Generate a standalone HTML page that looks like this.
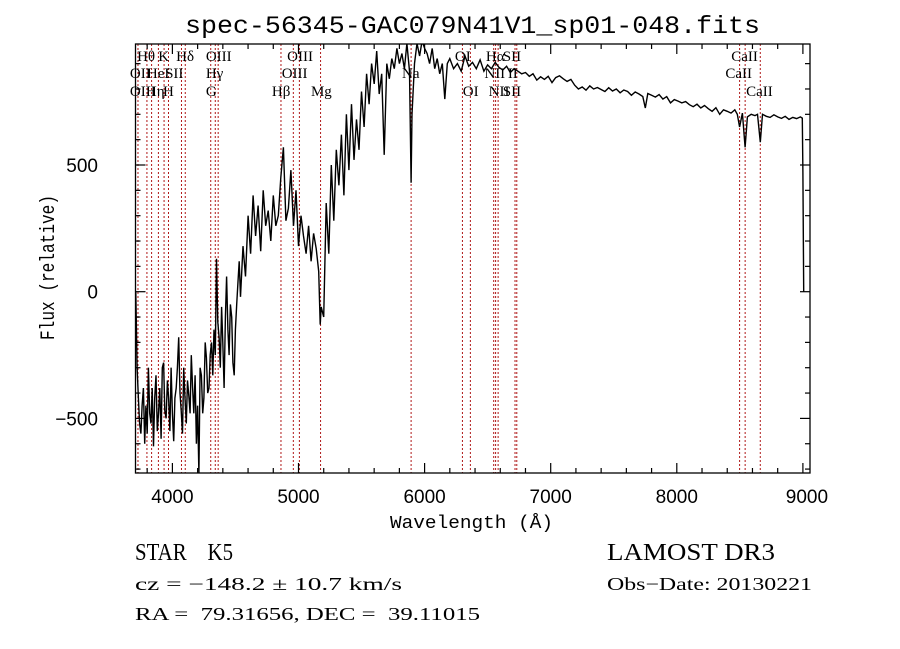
<!DOCTYPE html>
<html><head><meta charset="utf-8"><style>
body{margin:0;background:#fff;}
svg{display:block;}
text{fill:#000;white-space:pre;}
</style></head><body>
<svg id="chart" width="900" height="649" viewBox="0 0 900 649" xmlns="http://www.w3.org/2000/svg" xml:space="preserve">
<rect width="900" height="649" fill="#fff"/>
<text x="185" y="33" font-family="Liberation Mono, monospace" font-size="25" textLength="575" lengthAdjust="spacingAndGlyphs">spec-56345-GAC079N41V1_sp01-048.fits</text>
<defs><clipPath id="pc"><rect x="135.5" y="44" width="674.5" height="429"/></clipPath></defs>
<g id="lines" clip-path="url(#pc)"></g>
<g id="labels" font-family="Liberation Serif, serif" font-size="15"></g>
<g id="spec" clip-path="url(#pc)"></g>
<rect x="135.5" y="44" width="674.5" height="429" fill="none" stroke="#000" stroke-width="1.3"/>
<g id="ticks" stroke="#000" stroke-width="1.2"></g>
<g id="ticklabels" font-family="Liberation Sans, sans-serif" font-size="19"></g>
<text x="390" y="528" font-family="Liberation Mono, monospace" font-size="18" textLength="163" lengthAdjust="spacingAndGlyphs">Wavelength (Å)</text>
<text transform="translate(54,340) rotate(-90)" font-family="Liberation Mono, monospace" font-size="20" textLength="145" lengthAdjust="spacingAndGlyphs">Flux (relative)</text>
<text x="135" y="560" font-family="Liberation Serif, serif" font-size="24" textLength="98" lengthAdjust="spacingAndGlyphs">STAR    K5</text>
<text x="607" y="560" font-family="Liberation Serif, serif" font-size="24" textLength="168" lengthAdjust="spacingAndGlyphs">LAMOST DR3</text>
<text x="135" y="590" font-family="Liberation Serif, serif" font-size="18" textLength="267" lengthAdjust="spacingAndGlyphs">cz = −148.2 ± 10.7 km/s</text>
<text x="607" y="590" font-family="Liberation Serif, serif" font-size="18" textLength="205" lengthAdjust="spacingAndGlyphs">Obs−Date: 20130221</text>
<text x="135" y="620" font-family="Liberation Serif, serif" font-size="18" textLength="345" lengthAdjust="spacingAndGlyphs">RA =  79.31656, DEC =  39.11015</text>
</svg>
<script>
const wavelengths = [3710,3720,3730,3740,3750,3760,3770,3780,3790,3800,3810,3820,3830,3840,3850,3860,3870,3880,3890,3900,3910,3920,3930,3940,3950,3960,3970,3980,3990,4000,
4010,4020,4030,4040,4050,4060,4070,4080,4090,4100,4110,4120,4130,4140,4150,4160,4170,4180,4190,4200,4210,4220,4230,4240,4250,4260,4270,4280,4290,4300,
4310,4320,4330,4340,4350,4360,4370,4380,4390,4400,4410,4420,4430,4440,4450,4460,4470,4480,4490,4500,4510,4520,4530,4540,
4560,4580,4600,4620,4640,4660,4680,4700,4720,4740,
4760,4780,4800,4820,4840,4860,4880,4900,4920,4940,
4960,4980,5000,5020,5040,5060,5080,5100,5120,5140,
5160,5172,5180,5200,5220,5240,5260,5280,5300,5320,
5340,5360,5380,5400,5420,5440,5460,5480,5500,5520,
5540,5560,5580,5600,5620,5640,5660,5680,5700,5720,
5740,5760,5780,5800,5820,5840,5860,5880,5893,5900,5920,5940,5960,5980,6000,6020,6040,6060,6080,6100,6120,6140,6160,6180,
6200,6230,6260,6290,6320,6350,6380,6410,6440,6470,6500,6530,6560,6590,6620,6650,6680,6710,6740,6770,6800,6830,6860,6890,6920,6950,6980,7010,7040,7070,7100,7130,7160,7190,7220,7250,7280,7310,7340,7370,7400,7430,7460,7490,7520,7550,7580,7610,7640,7670,7700,7730,7750,7770,7800,7830,7860,7890,7920,7950,7980,8010,8040,8070,8100,8130,8160,8190,8220,8250,8280,8310,8340,8370,8400,8430,8460,8480,8498,8520,8542,8560,8590,8620,8640,8662,8680,8710,8740,8770,8800,8830,8860,8890,8920,8950,8980,8995,9000,9006];
const fluxes = [0,-300,-420,-520,-560,-450,-380,-600,-450,-560,-300,-480,-520,-380,-610,-420,-330,-550,-480,-380,-580,-300,-280,-470,-500,-350,-420,-550,-300,-480,
-590,-420,-380,-300,-180,-400,-470,-560,-300,-420,-520,-350,-410,-480,-250,-380,-480,-330,-600,-450,-720,-300,-330,-480,-420,-200,-260,-400,-380,-250,
-200,-330,-150,-250,130,-120,-180,-300,-60,-200,-380,-100,60,-150,-250,-50,-100,-280,-330,-150,-50,40,120,-20,
180,60,300,150,380,220,340,160,400,260,
320,200,380,260,300,450,570,280,330,480,
260,400,180,300,220,150,260,120,230,170,
80,-130,-60,-100,350,150,500,280,560,420,
620,380,700,480,740,520,680,560,790,650,
860,740,900,820,950,780,860,540,900,840,
920,880,960,900,940,880,980,870,430,700,900,980,930,990,960,940,900,960,880,920,860,900,760,900,
920,880,900,870,930,890,905,880,915,870,895,880,905,885,875,890,865,880,870,860,865,850,860,835,848,838,850,825,845,852,840,830,838,815,800,808,795,812,800,806,798,790,805,792,800,785,796,790,775,788,780,770,725,782,775,768,778,760,770,745,758,752,745,750,738,730,740,725,735,722,712,726,700,718,712,705,718,700,650,705,570,690,700,695,700,590,700,692,688,698,690,684,692,680,688,683,690,685,470,0];
const lineWaves = [3727,3798,3835,3889,3934,3969,4072,4102,4304,4340,4363,4861,4959,5007,5175,5893,6300,6363,6548,6563,6583,6717,6731,8498,8542,8662];
const labelNames = ["Hθ","K","Hδ","OIII","OIII","OI","Hα","SII","CaII","OII","HeI","SII","Hγ","OIII","Na","NII","II","CaII","OIII","Hη","H","G","Hβ","Mg","OI","NII","SII","CaII"];
const labelRows = [0,0,0,0,0,0,0,0,0,1,1,1,1,1,1,1,1,1,2,2,2,2,2,2,2,2,2,2];
const labelWaves = [3720,3888,4030,4265,4910,6240,6486,6620,8432,3663,3798,3942,4265,4867,5821,6474,6660,8385,3663,3790,3925,4265,4789,5099,6303,6508,6620,8550];
const xTicks = [4000,5000,6000,7000,8000,9000];
const yTicks = [-500,0,500];
const NS='http://www.w3.org/2000/svg';
const X0=135.5,X1=810,Y0=44,Y1=473;
function xs(w){return -332+w*0.1261;}
function ys(f){return 291.7-f*0.2534;}
function mk(tag,attrs,parent){const e=document.createElementNS(NS,tag);for(const k in attrs)e.setAttribute(k,attrs[k]);parent.appendChild(e);return e;}
const gl=document.getElementById('lines');
lineWaves.forEach(w=>{
  const l=mk('line',{x1:xs(w),x2:xs(w),y1:Y0,y2:Y1,stroke:'#b01818','stroke-width':1,'stroke-dasharray':'2,2'},gl);
  
  
});
const glab=document.getElementById('labels');
const rowY=[61,78,96];
labelNames.forEach((n,i)=>{
  const t=mk('text',{x:xs(labelWaves[i]),y:rowY[labelRows[i]]},glab);
  t.textContent=n;
  
  
});
const gs=document.getElementById('spec');
let d='';
wavelengths.forEach((w,i)=>{d+=(i?'L':'M')+xs(w).toFixed(1)+','+ys(fluxes[i]).toFixed(1);});
const p=mk('path',{d:d,fill:'none',stroke:'#000','stroke-width':1.4,'stroke-linejoin':'miter'},gs);


const gt=document.getElementById('ticks');
for(let w=3800;w<=9000;w+=200){
  const major=(w%1000===0);const L=major?10:5;
  mk('line',{x1:xs(w),x2:xs(w),y1:Y1,y2:Y1-L},gt);
  mk('line',{x1:xs(w),x2:xs(w),y1:Y0,y2:Y0+L},gt);
}
for(let f=-700;f<=900;f+=100){
  const major=(f%500===0);const L=major?10:5;
  mk('line',{x1:X0,x2:X0+L,y1:ys(f),y2:ys(f)},gt);
  mk('line',{x1:X1,x2:X1-L,y1:ys(f),y2:ys(f)},gt);
}
const gtl=document.getElementById('ticklabels');
xTicks.forEach(w=>{
  const t=mk('text',{x:xs(w)+(w===9000?4:0),y:503,'text-anchor':'middle'},gtl);
  t.textContent=String(w);
  
  
});
yTicks.forEach(f=>{
  const t=mk('text',{x:98,y:ys(f)+7,'text-anchor':'end'},gtl);
  t.textContent=(f<0?'−':'')+Math.abs(f);
  
  
});
</script>
</body></html>
